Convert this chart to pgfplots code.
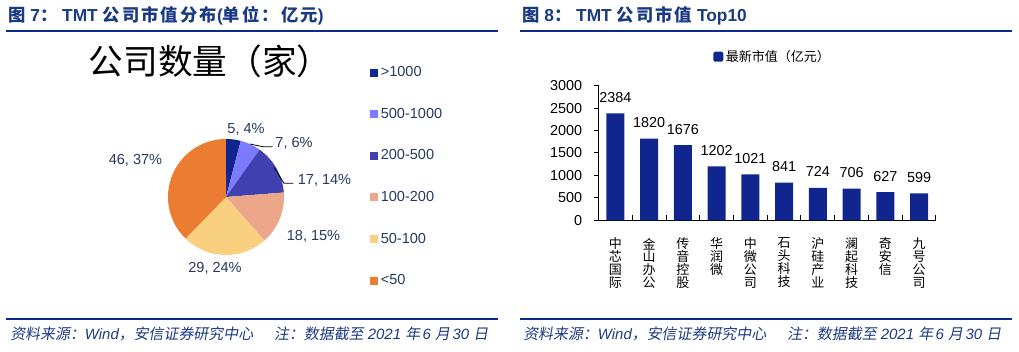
\documentclass[border=0pt]{standalone}
\usepackage{pgfplots}
\pgfplotsset{compat=1.18}
\usepackage{pgfplotstable}
\usepackage{fontspec}
\setmainfont{Liberation Sans}
\newfontfamily\cjk{Noto Sans CJK SC}
\newfontfamily\cjkt{Noto Sans CJK SC}[LetterSpace=12]
\newfontfamily\cjkit{Noto Sans CJK SC}[FakeSlant=0.18]

\definecolor{titleblue}{HTML}{1B3A85}
\definecolor{lineblue}{HTML}{0B2B8C}
\definecolor{barc}{HTML}{10268E}
\definecolor{pA}{HTML}{10268E}
\definecolor{pB}{HTML}{7B7BFF}
\definecolor{pC}{HTML}{4040B0}
\definecolor{pD}{HTML}{ECA689}
\definecolor{pE}{HTML}{F9CF80}
\definecolor{pF}{HTML}{EB7D33}
\definecolor{labelc}{HTML}{253A5E}

\pgfplotstableread{
idx count
0 5
1 7
2 17
3 18
4 29
5 46
}\piedata

\pgfplotstableread{
x value
0 2384
1 1820
2 1676
3 1202
4 1021
5 841
6 724
7 706
8 627
9 599
}\bardata

\pgfplotsset{
  sqlegend/.style={legend image code/.code={\fill[##1] (0pt,-3pt) rectangle (6pt,3pt);}},
  barlegend/.style={legend image code/.code={\fill[##1, rounded corners=1.2pt] (0pt,-3.75pt) rectangle (7.5pt,3.75pt);}},
}

\begin{document}
\begin{tikzpicture}[x=0.75pt,y=0.75pt]
\useasboundingbox (0,0) rectangle (1019,352);

% --- pie angles computed from the table
\pgfplotstablegetelem{0}{count}\of\piedata \pgfmathsetmacro\cA{\pgfplotsretval}
\pgfplotstablegetelem{1}{count}\of\piedata \pgfmathsetmacro\cB{\pgfplotsretval}
\pgfplotstablegetelem{2}{count}\of\piedata \pgfmathsetmacro\cC{\pgfplotsretval}
\pgfplotstablegetelem{3}{count}\of\piedata \pgfmathsetmacro\cD{\pgfplotsretval}
\pgfplotstablegetelem{4}{count}\of\piedata \pgfmathsetmacro\cE{\pgfplotsretval}
\pgfplotstablegetelem{5}{count}\of\piedata \pgfmathsetmacro\cF{\pgfplotsretval}
\pgfmathsetmacro\tot{\cA+\cB+\cC+\cD+\cE+\cF}
\pgfmathsetmacro\aA{90}
\pgfmathsetmacro\aB{\aA-360*(\cA/\tot)}
\pgfmathsetmacro\aC{\aB-360*(\cB/\tot)}
\pgfmathsetmacro\aD{\aC-360*(\cC/\tot)}
\pgfmathsetmacro\aE{\aD-360*(\cD/\tot)}
\pgfmathsetmacro\aF{\aE-360*(\cE/\tot)}
\pgfmathsetmacro\aG{\aF-360*(\cF/\tot)}

% --- headers and footers
\node[anchor=west, text=titleblue, inner sep=0pt] at (8,336)
  {\fontsize{13}{15}\selectfont\bfseries{\cjkt 图}\ 7{\cjkt ：}\ TMT\ {\cjkt 公司市值分布}({\cjkt 单位：亿元})};
\node[anchor=west, text=titleblue, inner sep=0pt] at (522,336)
  {\fontsize{13}{15}\selectfont\bfseries{\cjkt 图}\ 8{\cjkt ：}\ TMT\ {\cjkt 公司市值}\ Top10};
\draw[lineblue, line width=1.6pt] (6,321) -- (498,321);
\draw[lineblue, line width=1.6pt] (520,321) -- (1012,321);
\draw[lineblue, line width=1.6pt] (6,33) -- (498,33);
\draw[lineblue, line width=1.6pt] (520,33) -- (1012,33);
\node[anchor=west, text=titleblue, inner sep=0pt] at (10,18)
  {\fontsize{11.2}{13}\selectfont{\cjkit 资料来源：}{\itshape Wind}{\cjkit ，安信证券研究中心\hspace{1.4em}注：数据截至}\ {\itshape 2021}\ {\cjkit 年}\,{\itshape 6}\ {\cjkit 月}\,{\itshape 30}\ {\cjkit 日}};
\node[anchor=west, text=titleblue, inner sep=0pt] at (523,18)
  {\fontsize{11.2}{13}\selectfont{\cjkit 资料来源：}{\itshape Wind}{\cjkit ，安信证券研究中心\hspace{1.4em}注：数据截至}\ {\itshape 2021}\ {\cjkit 年}\,{\itshape 6}\ {\cjkit 月}\,{\itshape 30}\ {\cjkit 日}};

% --- pie title
\node[font=\cjk\fontsize{26}{28}\selectfont] at (210,291) {公司数量（家）};

% --- pie
\begin{axis}[
  at={(169.5pt,116.25pt)}, anchor=center,
  scale only axis, width=87pt, height=87pt,
  xmin=-1, xmax=1, ymin=-1, ymax=1,
  hide axis, clip=false,
  legend style={at={(axis description cs:1.74,1.65)}, anchor=north west,
    draw=none, fill=none, inner sep=0pt, row sep=18.1pt,
    font=\fontsize{10.9}{12}\selectfont, text=labelc},
  legend cell align=left,
]
\addplot[sqlegend, fill=pA, draw=none, domain=\aB:\aA, samples=20] ({cos(x)},{sin(x)}) -- (axis cs:0,0) -- cycle;
\addlegendentry{>1000}
\addplot[sqlegend, fill=pB, draw=none, domain=\aC:\aB, samples=20] ({cos(x)},{sin(x)}) -- (axis cs:0,0) -- cycle;
\addlegendentry{500-1000}
\addplot[sqlegend, fill=pC, draw=none, domain=\aD:\aC, samples=30] ({cos(x)},{sin(x)}) -- (axis cs:0,0) -- cycle;
\addlegendentry{200-500}
\addplot[sqlegend, fill=pD, draw=none, domain=\aE:\aD, samples=30] ({cos(x)},{sin(x)}) -- (axis cs:0,0) -- cycle;
\addlegendentry{100-200}
\addplot[sqlegend, fill=pE, draw=none, domain=\aF:\aE, samples=40] ({cos(x)},{sin(x)}) -- (axis cs:0,0) -- cycle;
\addlegendentry{50-100}
\addplot[sqlegend, fill=pF, draw=none, domain=\aG:\aF, samples=60] ({cos(x)},{sin(x)}) -- (axis cs:0,0) -- cycle;
\addlegendentry{<50}
\end{axis}

% pie data labels
\begin{scope}[every node/.style={font=\fontsize{10.9}{12}\selectfont, text=labelc, inner sep=0pt}]
\node at (246,223) {5, 4\%};
\node at (294,209) {7, 6\%};
\node at (324.5,172) {17, 14\%};
\node at (313.5,116) {18, 15\%};
\node at (215,84) {29, 24\%};
\node at (135.5,192) {46, 37\%};
\end{scope}
\draw[black, line width=0.6pt] (250,208) -- (262.7,205.3) -- (272.7,205.3);
\draw[black, line width=0.6pt] (274.3,184.3) -- (284,168.7) -- (293.3,168.7);

% --- bar chart
\begin{axis}[
  at={(448.875pt,98.775pt)}, anchor=south west,
  scale only axis, width=253.1pt, height=100.95pt,
  xmin=-0.5, xmax=9.5, ymin=0, ymax=3000,
  axis x line*=bottom, axis y line*=left,
  axis line style={black, line width=0.75pt},
  ytick={0,500,1000,1500,2000,2500,3000},
  xtick={-0.5,0.5,1.5,2.5,3.5,4.5,5.5,6.5,7.5,8.5,9.5},
  xticklabels={},
  extra x ticks={0,1,2,3,4,5,6,7,8,9},
  extra x tick labels={{中\\芯\\国\\际},{金\\山\\办\\公},{传\\音\\控\\股},{华\\润\\微},{中\\微\\公\\司},{石\\头\\科\\技},{沪\\硅\\产\\业},{澜\\起\\科\\技},{奇\\安\\信},{九\\号\\公\\司}},
  extra x tick style={tick style={draw=none}},
  tick align=outside, major tick length=3.75pt,
  tick style={black, line width=0.75pt},
  xtick style={yshift=3.75pt},
  yticklabel style={font=\fontsize{10.8}{12}\selectfont, xshift=-5pt},
  xticklabel style={font=\cjk\fontsize{9.75}{9.6}\selectfont, align=center, anchor=north, yshift=-6pt},
  /pgf/number format/1000 sep={},
  /pgf/number format/assume math mode=true,
  ybar, bar width=13.5pt,
  nodes near coords,
  nodes near coords style={font=\fontsize{10.8}{12}\selectfont, black, anchor=south, inner sep=0pt, yshift=8pt},
  legend style={at={(axis description cs:0.517,1.2155)}, anchor=center,
    draw=none, fill=none, inner sep=0pt,
    font=\cjk\fontsize{9.75}{11}\selectfont},
  clip=false,
]
\addplot[barlegend, fill=barc, draw=none] table[x=x, y=value] {\bardata};
\addlegendentry{最新市值（亿元）}
\end{axis}
\end{tikzpicture}
\end{document}
